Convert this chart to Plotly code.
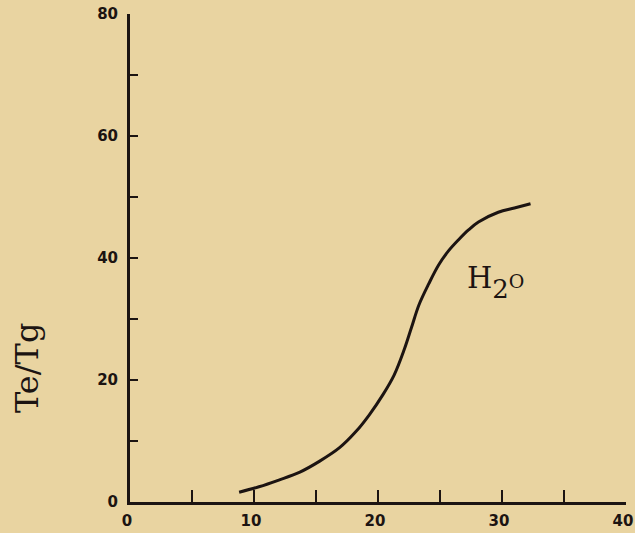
import plotly.graph_objects as go

# Data
x_vals = [8.8, 10.4, 12.0, 13.7, 15.3, 16.9, 18.2, 19.3, 20.4, 21.3, 22.1, 22.7, 23.3, 24.1, 24.9, 25.7, 26.5, 27.3, 28.1, 29.7, 31.0, 32.3]
y_vals = [1.6, 2.5, 3.6, 4.9, 6.7, 8.9, 11.5, 14.3, 17.6, 20.8, 24.9, 28.6, 32.3, 35.8, 38.9, 41.2, 43.0, 44.6, 45.9, 47.5, 48.2, 48.9]

x_ticks = [0, 5, 10, 15, 20, 25, 30, 35, 40]
x_tick_text = ["0", "", "10", "", "20", "", "30", "", "40"]
y_ticks = [0, 10, 20, 30, 40, 50, 60, 70, 80]
y_tick_text = ["0", "", "20", "", "40", "", "60", "", "80"]

ink = "#1c1412"
bg = "#e9d4a1"

L, R, T, B = 130, 9, 14, 31
W, H = 635, 533
pw, ph = W - L - R, H - T - B

fig = go.Figure()
fig.add_trace(go.Scatter(x=x_vals, y=y_vals, mode="lines",
                         line=dict(color=ink, width=3, shape="spline"),
                         hoverinfo="skip", showlegend=False))

fig.add_annotation(x=27.0, y=36.0, xref="x", yref="y",
                   text="H<sub><sub><span style='font-size:26px'>2</span></sub></sub><span style='font-size:19px'>O</span>",
                   showarrow=False, xanchor="left", yanchor="middle",
                   font=dict(family="DejaVu Serif", size=29, color=ink))

fig.add_annotation(x=(27 - L) / pw, y=(H - B - 368) / ph, xref="paper", yref="paper",
                   text="Te/Tg", textangle=-90, showarrow=False,
                   xanchor="center", yanchor="middle",
                   font=dict(family="DejaVu Serif", size=32, color=ink))

tickfont = dict(family="DejaVu Sans", size=15, color=ink, weight="bold")

fig.update_layout(
    width=W, height=H,
    margin=dict(l=L, r=R, t=T, b=B, autoexpand=False),
    paper_bgcolor=bg, plot_bgcolor=bg,
    showlegend=False,
    xaxis=dict(range=[0, 40], tickvals=x_ticks, ticktext=x_tick_text,
               ticks="inside", ticklen=12, tickwidth=2, tickcolor=ink,
               showline=True, linecolor=ink, linewidth=3,
               showgrid=False, zeroline=False, automargin=False,
               ticklabelstandoff=3, ticklabelshift=-3, ticklabeloverflow="allow",
               tickfont=tickfont),
    yaxis=dict(range=[0, 80], tickvals=y_ticks, ticktext=y_tick_text,
               ticks="inside", ticklen=8, tickwidth=2, tickcolor=ink,
               showline=True, linecolor=ink, linewidth=3,
               showgrid=False, zeroline=False, automargin=False,
               ticklabelstandoff=6, ticklabeloverflow="allow",
               tickfont=tickfont),
)

fig.write_html("out.html", config={"displayModeBar": False},
               post_script="document.body.style.margin='0';document.body.style.background='%s';" % bg)
